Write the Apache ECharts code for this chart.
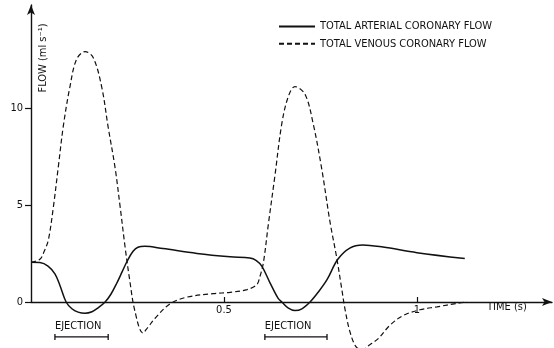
<!DOCTYPE html>
<html><head><meta charset="utf-8">
<script src="https://cdn.jsdelivr.net/npm/echarts@6/dist/echarts.min.js"></script>
<style>html,body{margin:0;padding:0;background:#fff}#c{width:554px;height:348px}</style>
</head><body><div id="c"></div>
<script>
const seriesNames = ['TOTAL ARTERIAL CORONARY FLOW', 'TOTAL VENOUS CORONARY FLOW'];
const arterialTime = [0, 0.023, 0.044, 0.062, 0.075, 0.091, 0.106, 0.122, 0.14, 0.158, 0.174, 0.192, 0.207, 0.223, 0.236, 0.249, 0.264, 0.277, 0.295, 0.342, 0.43, 0.516, 0.567, 0.583, 0.598, 0.619, 0.64, 0.65, 0.666, 0.684, 0.702, 0.723, 0.744, 0.767, 0.795, 0.826, 0.86, 0.912, 1.0, 1.124];
const arterialFlow = [2.05, 2.03, 1.85, 1.45, 0.85, 0.0, -0.35, -0.52, -0.58, -0.5, -0.3, 0.0, 0.4, 1.0, 1.55, 2.1, 2.6, 2.82, 2.87, 2.75, 2.5, 2.33, 2.27, 2.15, 1.85, 1.0, 0.2, 0.0, -0.3, -0.44, -0.35, 0.0, 0.5, 1.15, 2.2, 2.78, 2.94, 2.83, 2.54, 2.24];
const venousTime = [0, 0.023, 0.034, 0.045, 0.058, 0.071, 0.084, 0.101, 0.118, 0.14, 0.161, 0.183, 0.2, 0.218, 0.231, 0.244, 0.256, 0.269, 0.29, 0.303, 0.321, 0.36, 0.404, 0.472, 0.516, 0.56, 0.585, 0.593, 0.602, 0.615, 0.632, 0.65, 0.667, 0.684, 0.71, 0.731, 0.753, 0.775, 0.792, 0.805, 0.813, 0.826, 0.842, 0.858, 0.878, 0.899, 0.93, 0.964, 1.008, 1.052, 1.104, 1.13];
const venousFlow = [2.05, 2.2, 2.6, 3.2, 4.9, 7.0, 9.1, 11.1, 12.5, 12.9, 12.6, 11.1, 9.0, 6.9, 4.9, 2.8, 1.1, -0.45, -1.6, -1.3, -0.85, -0.1, 0.25, 0.43, 0.5, 0.64, 0.89, 1.3, 2.0, 4.0, 6.5, 9.2, 10.6, 11.1, 10.7, 9.2, 6.9, 4.1, 2.3, 0.7, -0.3, -1.5, -2.3, -2.45, -2.2, -1.9, -1.2, -0.7, -0.4, -0.25, -0.07, 0.0];
const ejectionStart = [0.062, 0.606];
const ejectionEnd = [0.2, 0.767];
const ejectionLabel = ['EJECTION', 'EJECTION'];
const xTickValues = [0.5, 1];
const yTickValues = [0, 5, 10];

const FONT = "'DejaVu Sans Condensed', 'Liberation Sans Narrow', 'DejaVu Sans', sans-serif";
const INK = '#111';
const chart = echarts.init(document.getElementById('c'), null, {renderer: 'canvas'});
const zip = (a, b) => a.map((v, i) => [v, b[i]]);

chart.setOption({
  animation: false,
  backgroundColor: '#fff',
  textStyle: {fontFamily: FONT, color: INK},
  grid: {left: 31, right: 2, top: 5, bottom: 46, containLabel: false},
  legend: {
    data: seriesNames,
    orient: 'vertical',
    left: 273, top: 16,
    itemWidth: 36, itemHeight: 14, itemGap: 6,
    itemStyle: {opacity: 0},
    textStyle: {fontFamily: FONT, fontSize: 11, color: INK}
  },
  xAxis: {
    type: 'value', min: 0, max: 1.35,
    axisLine: {show: true, lineStyle: {color: INK, width: 1.4}, symbol: ['none', 'arrow'], symbolSize: [6, 10]},
    axisTick: {show: true, inside: true, length: 5, customValues: xTickValues, lineStyle: {color: INK, width: 1.2}},
    axisLabel: {show: true, customValues: xTickValues, margin: 3, fontSize: 11, color: INK, fontFamily: FONT},
    splitLine: {show: false}
  },
  yAxis: {
    type: 'value', min: 0, max: 15.3,
    axisLine: {show: true, lineStyle: {color: INK, width: 1.4}, symbol: ['none', 'arrow'], symbolSize: [6, 10]},
    axisTick: {show: true, inside: false, length: 6, customValues: yTickValues, lineStyle: {color: INK, width: 1.2}},
    axisLabel: {show: true, customValues: yTickValues, margin: 8, fontSize: 11, color: INK, fontFamily: FONT},
    splitLine: {show: false}
  },
  graphic: [
    {type: 'text', x: 43, y: 58, rotation: Math.PI / 2,
     style: {text: 'FLOW (ml s\u207B\u00B9)', font: '11px ' + FONT, fill: INK, align: 'center', verticalAlign: 'middle'}},
    {type: 'text', x: 487, y: 307,
     style: {text: 'TIME (s)', font: '11px ' + FONT, fill: INK, align: 'left', verticalAlign: 'middle'}}
  ],
  series: [
    {
      name: seriesNames[0], type: 'line', data: zip(arterialTime, arterialFlow),
      showSymbol: false, symbol: 'none', smooth: 0.35, clip: false,
      lineStyle: {color: INK, width: 1.5, type: 'solid'}, itemStyle: {color: INK}
    },
    {
      name: seriesNames[1], type: 'line', data: zip(venousTime, venousFlow),
      showSymbol: false, symbol: 'none', smooth: 0.35, clip: false,
      lineStyle: {color: INK, width: 1.2, type: [5, 3]}, itemStyle: {color: INK}
    },
    {
      type: 'custom', clip: false, silent: true,
      encode: {x: [0, 1]},
      data: ejectionStart.map((s, i) => [s, ejectionEnd[i]]),
      renderItem: function (params, api) {
        const lvl = -1.8;
        const s = api.coord([api.value(0), lvl]);
        const e = api.coord([api.value(1), lvl]);
        const st = {stroke: INK, lineWidth: 1.3};
        return {type: 'group', children: [
          {type: 'line', shape: {x1: s[0], y1: s[1], x2: e[0], y2: e[1]}, style: st},
          {type: 'line', shape: {x1: s[0], y1: s[1] - 3, x2: s[0], y2: s[1] + 3}, style: st},
          {type: 'line', shape: {x1: e[0], y1: e[1] - 3, x2: e[0], y2: e[1] + 3}, style: st},
          {type: 'text', x: s[0], y: s[1] - 5, style: {text: ejectionLabel[params.dataIndex], font: '11px ' + FONT, fill: INK, align: 'left', verticalAlign: 'bottom'}}
        ]};
      }
    }
  ]
});
</script>
</body></html>
